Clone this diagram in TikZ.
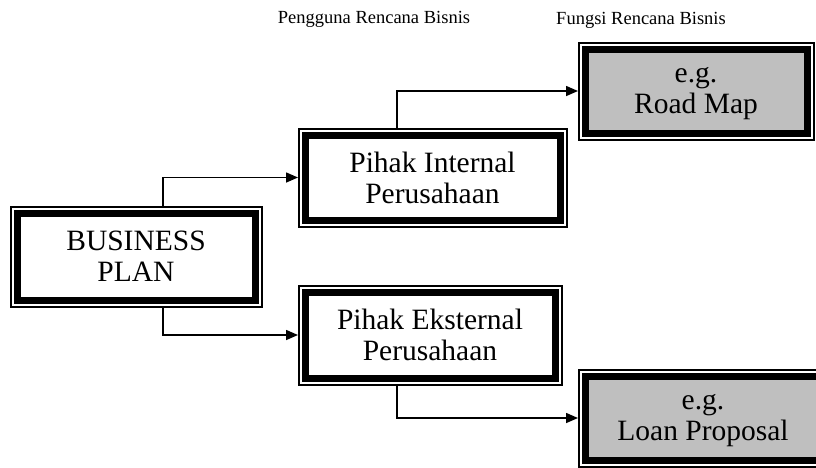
\documentclass[tikz,border=0pt]{standalone}
\usepackage{fontspec}
\setmainfont{Liberation Serif}
\usetikzlibrary{arrows.meta}

\tikzset{
  frame/.style={fill=#1, draw, line width=7pt, outer sep=7pt, align=center,
    inner sep=0pt, font=\fontsize{29.5}{31}\selectfont,
    preaction={draw, line width=15pt},
    preaction={draw=white, line width=11pt}},
  frame/.default=white,
  link/.style={line width=1.5pt, -{Triangle[length=12pt, width=10pt]}}
}

\begin{document}
\begin{tikzpicture}[x=1pt, y=-1pt]
    \useasboundingbox (0,0) rectangle (816,467);
    \node [frame, minimum width=238pt, minimum height=87pt] (BP) at (136, 256.5) {%
      BUSINESS \\ PLAN
    };
    \node [frame, minimum width=255pt, minimum height=85pt] (PI) at (432.5, 177.5) {%
      Pihak Internal \\ Perusahaan
    };
    \node [frame, minimum width=250pt, minimum height=86pt] (PE) at (430, 335) {%
      Pihak Eksternal \\ Perusahaan
    };
    \node [frame=gray!50, minimum width=222pt, minimum height=84pt] (RM) at (696, 91) {%
      \vphantom{h}e.g. \\ Road Map
    };
    \node [frame=gray!50, minimum width=236pt, minimum height=84pt] (LP) at (703, 418) {%
      \vphantom{h}e.g. \\ Loan Proposal
    };
    \node [anchor=base, font=\fontsize{18.5}{20}\selectfont] (user) at (374, 23)
      {Pengguna Rencana Bisnis};
    \node [anchor=base, font=\fontsize{18.5}{20}\selectfont] (role) at (641, 24)
      {Fungsi Rencana Bisnis};
    \draw [link] ([xshift=27pt]BP.north) |- (PI.west);
    \draw [link] ([xshift=27pt]BP.south) |- (PE.west);
    \draw [link] ([xshift=-35.5pt]PI.north) |- (RM.west);
    \draw [link] ([xshift=-33pt]PE.south) |- (LP.west);
  \end{tikzpicture}
\end{document}
